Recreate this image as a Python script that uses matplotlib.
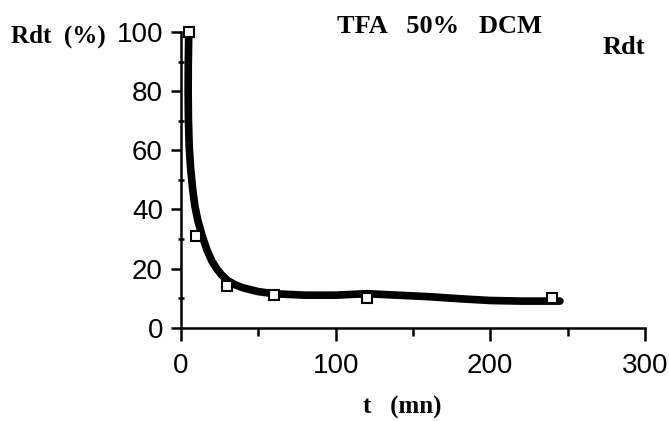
import matplotlib
matplotlib.use("Agg")
import matplotlib.pyplot as plt
from matplotlib.ticker import MultipleLocator

# measured points
t_pts = [5, 10, 30, 60, 120, 240]
rdt_pts = [100, 31, 14, 11, 10, 10]

# smoothed trend curve
curve_t = [5, 4.7, 4.6, 4.8, 5.3, 6.2, 7.5, 9, 11, 14, 17, 20, 23, 26, 30, 35, 40, 50, 60, 80, 100, 120, 140, 160, 180, 200, 220, 245]
curve_y = [100, 90, 80, 70, 61, 54, 47, 41, 36, 30.5, 26, 22.5, 20, 18, 16, 14.5, 13.5, 12.2, 11.5, 11, 11, 11.5, 11, 10.5, 9.8, 9.2, 9, 9]

fig = plt.figure(figsize=(6.69, 4.21), dpi=100)
ax = fig.add_axes([0.2706, 0.2216, 0.6934, 0.7024])

ax.plot(curve_t, curve_y, color="black", lw=5.5, solid_capstyle="round", solid_joinstyle="round", zorder=2, clip_on=False)
ax.plot(t_pts, rdt_pts, ls="none", marker="s", ms=7.5, mfc="white", mec="black", mew=1.5, zorder=3, clip_on=False)

ax.set_xlim(0, 300)
ax.set_ylim(0, 100)
for s in ("top", "right"):
    ax.spines[s].set_visible(False)
for s in ("left", "bottom"):
    ax.spines[s].set_linewidth(1.8)
ax.xaxis.set_major_locator(MultipleLocator(100))
ax.xaxis.set_minor_locator(MultipleLocator(50))
ax.yaxis.set_major_locator(MultipleLocator(20))
ax.yaxis.set_minor_locator(MultipleLocator(10))

ax.tick_params(axis="x", which="major", direction="out", length=9, width=1.8, pad=9)
ax.tick_params(axis="x", which="minor", direction="out", length=6, width=1.8)
ax.tick_params(axis="y", which="major", direction="out", length=7, width=1.8, pad=6)
ax.tick_params(axis="y", which="minor", direction="inout", length=5, width=1.8)
for lab in ax.get_xticklabels() + ax.get_yticklabels():
    lab.set_family("Liberation Sans")
    lab.set_fontsize(20)

serif = "Liberation Serif"
fig.text(0.602, 0.033, "t   (mn)", fontsize=18, family=serif, fontweight="bold", va="center", ha="center")
fig.text(0.016, 0.914, "Rdt  (%)", fontsize=18, family=serif, fontweight="bold", va="center", ha="left")
fig.text(0.657, 0.936, "TFA   50%   DCM", fontsize=19, family=serif, fontweight="bold", va="center", ha="center")
fig.text(0.900, 0.886, "Rdt", fontsize=19, family=serif, fontweight="bold", va="center", ha="left")

fig.savefig("out.png", dpi=100)
